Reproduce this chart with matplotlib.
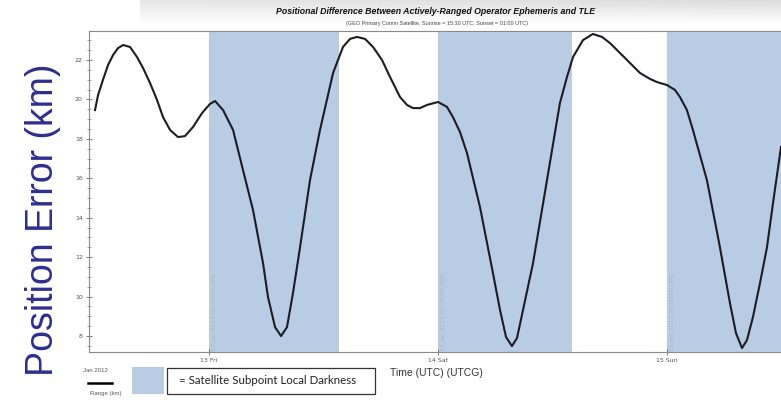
import numpy as np
import matplotlib.pyplot as plt
from matplotlib.patches import Rectangle
from matplotlib.lines import Line2D

# hours since 12 Jan 2012 00:00 UTC
hours = [12.05, 12.37, 12.89, 13.42, 13.94, 14.46, 14.99, 15.72, 16.45, 17.08,
         17.82, 18.55, 19.18, 19.92, 20.75, 21.48, 22.32, 23.27, 24.10, 24.63,
         25.47, 26.52, 27.56, 28.61, 29.66, 30.18, 30.92, 31.55, 32.17, 32.80,
         33.54, 34.58, 35.63, 37.00, 38.04, 38.78, 39.51, 40.35, 41.19, 42.13,
         42.97, 44.02, 44.75, 45.38, 46.11, 46.85, 48.00, 48.94, 49.57, 50.30,
         51.04, 52.40, 53.76, 54.50, 55.13, 55.75, 56.28, 56.91, 57.96, 59.42,
         60.78, 61.52, 62.15, 63.20, 64.24, 65.19, 66.02, 67.81, 69.17, 70.22,
         70.95, 72.00, 72.84, 73.36, 74.09, 74.72, 76.19, 77.55, 78.60, 79.23,
         79.86, 80.38, 81.01, 81.75, 82.48, 83.11, 83.95]
error_km = [19.46, 20.22, 21.00, 21.75, 22.25, 22.60, 22.76, 22.66, 22.15, 21.60,
            20.83, 19.97, 19.10, 18.45, 18.09, 18.14, 18.60, 19.31, 19.77, 19.92,
            19.46, 18.45, 16.42, 14.39, 11.70, 9.98, 8.45, 8.00, 8.45, 10.18,
            12.50, 15.90, 18.45, 21.34, 22.66, 23.07, 23.17, 23.07, 22.66, 22.00,
            21.14, 20.12, 19.72, 19.56, 19.56, 19.72, 19.87, 19.62, 19.10, 18.35,
            17.28, 14.54, 11.19, 9.32, 7.95, 7.49, 7.90, 9.32, 11.70, 15.90,
            19.82, 21.14, 22.15, 23.01, 23.32, 23.17, 22.86, 22.00, 21.34, 21.04,
            20.88, 20.73, 20.48, 20.12, 19.46, 18.45, 15.90, 12.50, 9.67, 8.15,
            7.39, 7.79, 8.96, 10.69, 12.50, 14.74, 17.59]

dark_start = [24.0, 48.1, 72.0]
dark_end = [37.6, 62.0, 90.0]

day_ticks = [24, 48, 72]
day_labels = ["13 Fri", "14 Sat", "15 Sun"]
day_stamps = ["13 Jan 2012 00:00:00.000", "14 Jan 2012 00:00:00.000",
              "15 Jan 2012 00:00:00.000"]

W, H = 781, 400
shade = "#b8cce4"


def fx(x):
    return x / W


def fy(y):
    return 1 - y / H


def main():
    fig = plt.figure(figsize=(W / 100, H / 100), dpi=100)

    # slide header band
    band = fig.add_axes([fx(140), fy(24), fx(W - 140), 24 / H])
    grad = np.linspace(0.90, 1.0, 50)[:, None] * np.ones((1, 200))
    grad = grad - np.linspace(0, 0.04, 200)[None, :] * (1 - np.linspace(0, 1, 50)[:, None])
    band.imshow(grad, cmap="gray", vmin=0, vmax=1, aspect="auto")
    band.axis("off")

    ax = fig.add_axes([fx(89), fy(352), fx(W - 89), (352 - 31) / H])
    for s, e in zip(dark_start, dark_end):
        ax.axvspan(s, e, color=shade, lw=0, zorder=0)
    for d, lab in zip(day_ticks, day_stamps):
        ax.axvline(d, color="#c8c8c8", lw=0.8, zorder=1)
        ax.annotate(lab, (d, 7.25), xytext=(2, 0), textcoords="offset points",
                    rotation=90, ha="left", va="bottom", fontsize=4.3,
                    color="#a9b6c8", zorder=1)

    ax.plot(hours, error_km, color="#1c1c24", lw=1.5, zorder=3,
            solid_joinstyle="round")

    ax.set_xlim(11.42, 83.95)
    ax.set_ylim(7.19, 23.47)
    ax.set_yticks(np.arange(8, 23, 2))
    ax.set_yticks(np.arange(7.5, 23.5, 0.5), minor=True)
    ax.set_xticks(day_ticks)
    ax.set_xticklabels(day_labels)
    ax.tick_params(axis="both", which="major", direction="inout", length=5,
                   width=0.6, color="#666666", labelsize=4.5,
                   labelcolor="#555555", pad=2)
    ax.tick_params(axis="y", which="minor", direction="inout", length=3,
                   width=0.5, color="#777777")
    for side in ["left", "bottom", "top"]:
        ax.spines[side].set_color("#8a8a8a")
        ax.spines[side].set_linewidth(0.8)
    ax.spines["right"].set_visible(False)

    fig.text(fx(436), fy(12), "Positional Difference Between Actively-Ranged "
             "Operator Ephemeris and TLE", ha="center", va="center",
             fontsize=6.3, fontweight="bold", fontstyle="italic",
             family="Liberation Sans", color="#111111")
    fig.text(fx(437), fy(23), "(GEO Primary Comm Satellite, Sunrise = 15:30 UTC, "
             "Sunset = 01:00 UTC)", ha="center", va="center", fontsize=4.0,
             family="Liberation Sans", color="#444444")

    fig.text(fx(43), fy(220), "Position Error (km)", rotation=90,
             ha="center", va="center", fontsize=27, family="Liberation Sans",
             color="#2f2e8e")

    fig.text(fx(436), fy(373), "Time (UTC) (UTCG)", ha="center", va="center",
             fontsize=7.5, family="Liberation Sans", color="#333333")

    # bottom-left key
    fig.text(fx(95), fy(371), "Jan 2012", ha="center", va="center",
             fontsize=4.3, color="#555555", family="Liberation Sans")
    fig.add_artist(Line2D([fx(88), fx(112)], [fy(383), fy(383)],
                          color="black", lw=1.8))
    fig.text(fx(106), fy(393), "Range (km)", ha="center", va="center",
             fontsize=4.3, color="#555555", family="Liberation Sans")
    fig.add_artist(Rectangle((fx(132), fy(394)), fx(32), 27 / H,
                             facecolor=shade, edgecolor="none"))
    fig.add_artist(Rectangle((fx(167), fy(394)), fx(208), 26 / H,
                             facecolor="white", edgecolor="#333333", lw=0.9))
    fig.text(fx(179), fy(381), "= Satellite Subpoint Local Darkness",
             ha="left", va="center", fontsize=8.3, family="Lato",
             color="#222222")

    fig.savefig("out.png", dpi=100)


if __name__ == "__main__":
    main()
